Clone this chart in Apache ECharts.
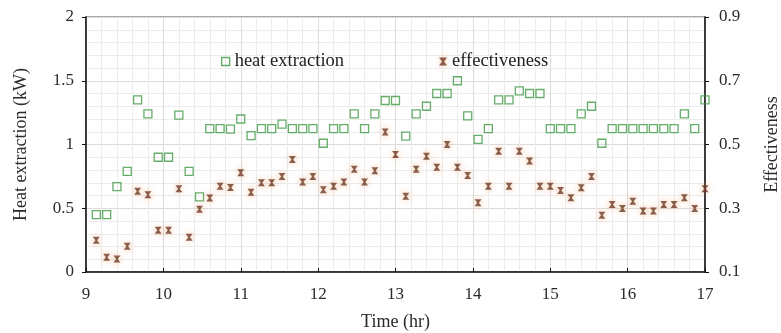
<!DOCTYPE html>
<html>
<head>
<meta charset="utf-8">
<script src="https://cdn.jsdelivr.net/npm/echarts@6/dist/echarts.min.js"></script>
<style>
  html, body { margin: 0; padding: 0; background: #fff; }
  #chart { width: 781px; height: 333px; }
</style>
</head>
<body>
<div id="chart"></div>
<script>
// Sampling times (hr), one reading every 8 minutes
const times = [
  9.133, 9.267, 9.4, 9.533, 9.667, 9.8, 9.933, 10.067, 10.2, 10.333,
  10.467, 10.6, 10.733, 10.867, 11.0, 11.133, 11.267, 11.4, 11.533, 11.667,
  11.8, 11.933, 12.067, 12.2, 12.333, 12.467, 12.6, 12.733, 12.867, 13.0,
  13.133, 13.267, 13.4, 13.533, 13.667, 13.8, 13.933, 14.067, 14.2, 14.333,
  14.467, 14.6, 14.733, 14.867, 15.0, 15.133, 15.267, 15.4, 15.533, 15.667,
  15.8, 15.933, 16.067, 16.2, 16.333, 16.467, 16.6, 16.733, 16.867, 17.0
];

// Heat extraction (kW)
const heatExtraction = [
  0.45, 0.45, 0.67, 0.79, 1.35, 1.24, 0.90, 0.90, 1.23, 0.79,
  0.59, 1.125, 1.125, 1.12, 1.20, 1.07, 1.125, 1.125, 1.16, 1.125,
  1.125, 1.125, 1.01, 1.125, 1.125, 1.24, 1.125, 1.24, 1.345, 1.345,
  1.065, 1.24, 1.30, 1.40, 1.40, 1.50, 1.225, 1.04, 1.125, 1.35,
  1.35, 1.42, 1.40, 1.40, 1.125, 1.125, 1.125, 1.24, 1.30, 1.01,
  1.125, 1.125, 1.125, 1.125, 1.125, 1.125, 1.125, 1.24, 1.125, 1.35
];

// Effectiveness (-)
const effectiveness = [
  0.200, 0.146, 0.141, 0.181, 0.353, 0.342, 0.231, 0.231, 0.361, 0.209,
  0.297, 0.332, 0.369, 0.365, 0.411, 0.350, 0.380, 0.380, 0.400, 0.453,
  0.382, 0.400, 0.358, 0.369, 0.382, 0.422, 0.382, 0.418, 0.539, 0.469,
  0.338, 0.422, 0.463, 0.429, 0.500, 0.429, 0.403, 0.317, 0.369, 0.479,
  0.369, 0.479, 0.448, 0.369, 0.369, 0.356, 0.333, 0.364, 0.400, 0.278,
  0.312, 0.299, 0.322, 0.291, 0.291, 0.312, 0.312, 0.333, 0.299, 0.361
];

const seriesNames = ['heat extraction', 'effectiveness'];

const serif = 'Liberation Serif, Times New Roman, serif';
const green = '#3f9a45';
const crossColor = '#6e3b26';
const crossSymbol = 'path://M0,0L10,0L6.2,5L10,10L0,10L3.8,5Z';

const chart = echarts.init(document.getElementById('chart'), null, { renderer: 'canvas' });

const axisLabelStyle = { fontFamily: serif, fontSize: 17, color: '#2a2a2a' };
const nameStyle = { fontFamily: serif, fontSize: 18, color: '#2a2a2a' };

chart.setOption({
  animation: false,
  backgroundColor: '#fff',
  grid: {
    left: 86, right: 76, top: 17, bottom: 61,
    outerBoundsMode: 'none',
    containLabel: false,
    show: true, borderColor: '#a8a8a8', borderWidth: 2, backgroundColor: 'transparent'
  },
  legend: {
    left: 216, top: 47,
    itemGap: 95,
    itemWidth: 8, itemHeight: 8,
    textStyle: { fontFamily: serif, fontSize: 18.5, color: '#222' },
    data: [
      { name: seriesNames[0], icon: 'rect',
        itemStyle: { color: 'transparent', borderColor: green, borderWidth: 1.3 } },
      { name: seriesNames[1], icon: crossSymbol,
        itemStyle: { color: crossColor, shadowColor: 'rgba(235,140,70,0.7)', shadowBlur: 5 } }
    ]
  },
  xAxis: {
    type: 'value', min: 9, max: 17, interval: 1,
    name: 'Time (hr)', nameLocation: 'middle', nameGap: 41, nameTextStyle: nameStyle,
    axisLine: { lineStyle: { color: '#111', width: 1.5 } },
    axisTick: { inside: true, length: 4, lineStyle: { color: '#111' } },
    axisLabel: Object.assign({ margin: 14 }, axisLabelStyle),
    splitLine: { show: true, lineStyle: { color: '#dcdcdc', width: 1 } },
    minorTick: { show: false, splitNumber: 5 },
    minorSplitLine: { show: true, lineStyle: { color: '#ececec', width: 1 } }
  },
  yAxis: [
    {
      type: 'value', min: 0, max: 2, interval: 0.5, position: 'left',
      name: 'Heat extraction (kW)', nameLocation: 'middle', nameGap: 56, nameRotate: 90,
      nameTextStyle: nameStyle,
      axisLine: { show: true, lineStyle: { color: '#111', width: 1.5 } },
      axisTick: { show: true, inside: false, length: 4, lineStyle: { color: '#111' } },
      axisLabel: Object.assign({ margin: 12 }, axisLabelStyle),
      splitLine: { show: true, lineStyle: { color: '#dcdcdc', width: 1 } },
      minorTick: { show: false, splitNumber: 5 },
      minorSplitLine: { show: true, lineStyle: { color: '#ececec', width: 1 } }
    },
    {
      type: 'value', min: 0.1, max: 0.9, interval: 0.2, position: 'right',
      name: 'Effectiveness', nameLocation: 'middle', nameGap: 58, nameRotate: 90,
      nameTextStyle: nameStyle,
      axisLine: { show: true, lineStyle: { color: '#111', width: 1.5 } },
      axisTick: { show: true, inside: false, length: 4, lineStyle: { color: '#111' } },
      axisLabel: Object.assign({ margin: 14 }, axisLabelStyle),
      splitLine: { show: false }
    }
  ],
  series: [
    {
      name: seriesNames[0],
      type: 'scatter',
      yAxisIndex: 0,
      symbol: 'rect',
      symbolSize: 8,
      itemStyle: { color: 'transparent', borderColor: green, borderWidth: 1.3 },
      data: times.map((t, i) => [t, heatExtraction[i]]),
      z: 3
    },
    {
      name: seriesNames[1],
      type: 'scatter',
      yAxisIndex: 1,
      symbol: crossSymbol,
      symbolSize: [7, 7],
      itemStyle: { color: crossColor, shadowColor: 'rgba(235,140,70,0.75)', shadowBlur: 6 },
      data: times.map((t, i) => [t, effectiveness[i]]),
      z: 4
    }
  ]
});
</script>
</body>
</html>
